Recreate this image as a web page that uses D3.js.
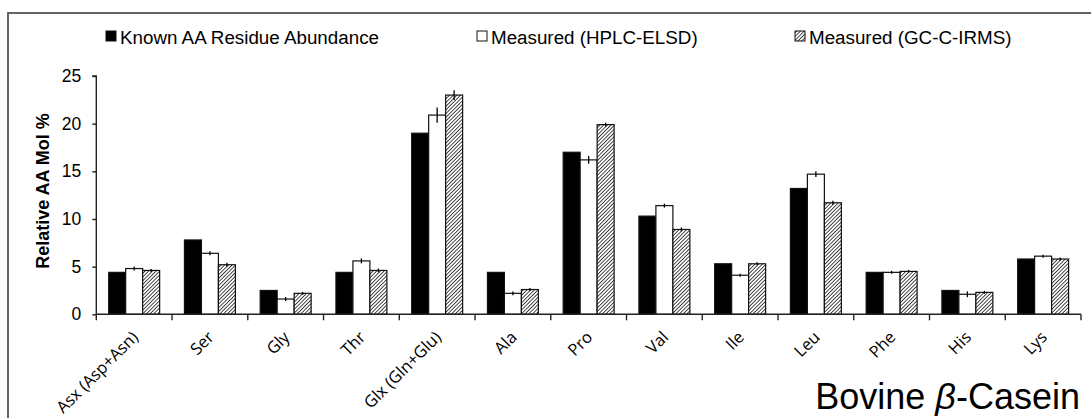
<!DOCTYPE html>
<html>
<head>
<meta charset="utf-8">
<script src="https://cdn.jsdelivr.net/npm/d3@7"></script>
<style>
  body { margin: 0; background: #fff; }
  svg { display: block; }
</style>
</head>
<body>
<div id="graph"></div>
<script>
// amino acid categories
const categories = ["Asx (Asp+Asn)", "Ser", "Gly", "Thr", "Glx (Gln+Glu)", "Ala", "Pro", "Val", "Ile", "Leu", "Phe", "His", "Lys"];
const seriesNames = ["Known AA Residue Abundance", "Measured (HPLC-ELSD)", "Measured (GC-C-IRMS)"];

const known   = [4.4, 7.8, 2.5, 4.4, 19.0, 4.4, 17.0, 10.3, 5.3, 13.2, 4.4, 2.5, 5.8];
const hplc    = [4.8, 6.4, 1.6, 5.6, 20.9, 2.2, 16.2, 11.4, 4.1, 14.7, 4.4, 2.1, 6.1];
const hplcErr = [0.1, 0.1, 0.1, 0.15, 0.7, 0.1, 0.3, 0.1, 0.05, 0.2, 0.05, 0.2, 0.05];
const gcc     = [4.6, 5.2, 2.2, 4.6, 23.0, 2.6, 19.9, 8.9, 5.3, 11.7, 4.5, 2.3, 5.8];
const gccErr  = [0.05, 0.1, 0.05, 0.1, 0.4, 0.05, 0.1, 0.1, 0.05, 0.1, 0.05, 0.05, 0.05];
const yTicks  = [0, 5, 10, 15, 20, 25];

window.onload = start;

function start() {
    var width = 1091, height = 418;
    var left = 96.3, right = 1081, top = 76, bottom = 314.3;

    var svg = d3.select("#graph")
        .append("svg")
        .attr("width", width)
        .attr("height", height);

    var defs = svg.append("defs");
    var pat = defs.append("pattern")
        .attr("id", "hatch")
        .attr("patternUnits", "userSpaceOnUse")
        .attr("width", 2.6)
        .attr("height", 2.6)
        .attr("patternTransform", "rotate(45)");
    pat.append("rect").attr("width", 2.6).attr("height", 2.6).attr("fill", "#ffffff");
    pat.append("line")
        .attr("x1", 0).attr("y1", 0).attr("x2", 0).attr("y2", 2.6)
        .attr("stroke", "#2a2a2a").attr("stroke-width", 1.7);

    // outer frame
    svg.append("rect")
        .attr("x", 8).attr("y", 13)
        .attr("width", 1200).attr("height", 600)
        .attr("fill", "none")
        .attr("stroke", "#555")
        .attr("stroke-width", 1.8);

    let xScale = d3.scaleBand().domain(categories).range([left, right]);
    let x1 = d3.scaleBand().domain(seriesNames)
        .range([12.4, xScale.bandwidth() - 12.4]);
    let yScale = d3.scaleLinear().domain([0, 25]).range([bottom, top]);

    let fills = ["#000", "#fff", "url(#hatch)"];
    let values = [known, hplc, gcc];
    let errs = [null, hplcErr, gccErr];

    // bars
    values.forEach(function (vals, s) {
        svg.append("g")
            .selectAll("rect")
            .data(vals)
            .enter()
            .append("rect")
            .attr("x", function (d, i) { return xScale(categories[i]) + x1(seriesNames[s]); })
            .attr("y", function (d) { return yScale(d); })
            .attr("width", x1.bandwidth())
            .attr("height", function (d) { return yScale(0) - yScale(d); })
            .attr("fill", fills[s])
            .attr("stroke", "#111")
            .attr("stroke-width", 1.2);
    });

    // error bars
    errs.forEach(function (e, s) {
        if (!e) return;
        svg.append("g")
            .selectAll("line")
            .data(values[s])
            .enter()
            .append("line")
            .attr("x1", function (d, i) { return xScale(categories[i]) + x1(seriesNames[s]) + x1.bandwidth() / 2; })
            .attr("x2", function (d, i) { return xScale(categories[i]) + x1(seriesNames[s]) + x1.bandwidth() / 2; })
            .attr("y1", function (d, i) { return yScale(d - e[i]) + 1; })
            .attr("y2", function (d, i) { return yScale(d + e[i]) - 1; })
            .attr("stroke", "#000")
            .attr("stroke-width", 1.3);
    });

    // y axis
    var yAxis = d3.axisLeft(yScale).tickValues(yTicks).tickSize(4).tickPadding(11);
    var gy = svg.append("g")
        .attr("class", "yaxis")
        .attr("transform", "translate(" + left + ",0)")
        .call(yAxis);
    gy.select(".domain").attr("d", "M-4," + top + "H0V" + bottom).attr("stroke", "#222").attr("stroke-width", 1.4);
    gy.selectAll(".tick line").attr("stroke", "#222").attr("stroke-width", 1.4);
    gy.selectAll("text")
        .style("font-family", "Liberation Sans, Arial, sans-serif")
        .style("font-size", "17.5px")
        .attr("fill", "#000");

    // x axis line and ticks at band edges
    var gx = svg.append("g").attr("class", "xaxis");
    gx.append("line")
        .attr("x1", left).attr("x2", right)
        .attr("y1", bottom).attr("y2", bottom)
        .attr("stroke", "#222").attr("stroke-width", 1.4);
    var edges = categories.map(function (c) { return xScale(c); }).concat([right]);
    gx.selectAll(".xt")
        .data(edges)
        .enter()
        .append("line")
        .attr("x1", function (d) { return d; })
        .attr("x2", function (d) { return d; })
        .attr("y1", bottom)
        .attr("y2", bottom + 6)
        .attr("stroke", "#222").attr("stroke-width", 1.4);
    gx.selectAll(".xl")
        .data(categories)
        .enter()
        .append("text")
        .attr("transform", function (d) {
            return "translate(" + (xScale(d) + xScale.bandwidth() / 2 + 5) + "," + (bottom + 24) + ") rotate(-45)";
        })
        .style("text-anchor", "end")
        .style("font-family", "Open Sans, sans-serif")
        .style("font-size", "16.5px")
        .attr("fill", "#000")
        .text(function (d) { return d; });

    // y label
    svg.append("text")
        .attr("transform", "translate(49,191) rotate(-90)")
        .style("text-anchor", "middle")
        .style("font-family", "Liberation Sans, Arial, sans-serif")
        .style("font-size", "18px")
        .style("font-weight", "bold")
        .text("Relative AA Mol %");

    // legend
    var legX = [106, 477, 795];
    var leg = svg.append("g");
    seriesNames.forEach(function (name, i) {
        leg.append("rect")
            .attr("x", legX[i]).attr("y", 31)
            .attr("width", 10).attr("height", 10)
            .attr("fill", fills[i])
            .attr("stroke", "#111")
            .attr("stroke-width", 1);
        leg.append("text")
            .attr("x", legX[i] + 14).attr("y", 44)
            .style("font-family", "Liberation Sans, Arial, sans-serif")
            .style("font-size", "18.8px")
            .text(name);
    });

    // title
    var title = svg.append("text")
        .attr("x", 1080).attr("y", 409)
        .style("text-anchor", "end")
        .style("font-family", "Liberation Sans, Arial, sans-serif")
        .style("font-size", "36px");
    title.append("tspan").text("Bovine ");
    title.append("tspan").style("font-style", "italic").text("β");
    title.append("tspan").text("-Casein");
}
</script>
</body>
</html>
